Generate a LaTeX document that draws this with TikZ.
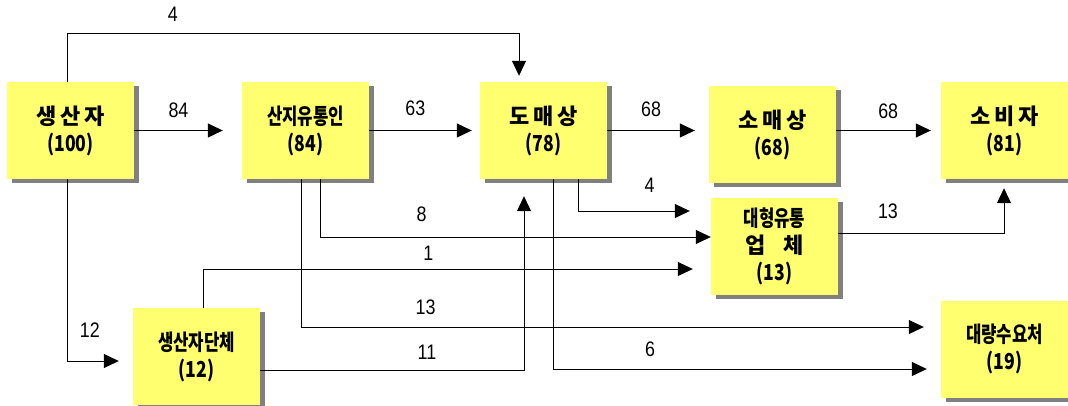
\documentclass[tikz,border=0pt]{standalone}
\usepackage{fontspec}
\usepackage{graphicx}
\usepackage{tikz}
\usetikzlibrary{arrows.meta,shadows}
\newfontfamily\krfont{Noto Sans CJK KR}
\newfontfamily\krnum[FakeStretch=0.8]{Noto Sans CJK KR}
\newfontfamily\numfont[FakeStretch=0.85]{Liberation Sans}
\newcommand\narrowtxt[1]{\scalebox{0.76}[1]{\krfont #1}}
\definecolor{boxyellow}{HTML}{FFFF70}
\definecolor{shadowgray}{HTML}{808080}
\tikzset{box/.style={fill=boxyellow,minimum width=127pt,minimum height=97pt,inner sep=0pt,align=center,font=\krnum\bfseries\fontsize{22}{27}\selectfont,general shadow={fill=shadowgray,shadow xshift=5pt,shadow yshift=-4pt}}}
\tikzset{lbl/.style={font=\numfont\fontsize{21}{25}\selectfont,inner sep=0pt}}
\tikzset{flow/.style={draw,line width=1pt,->}}

\begin{document}
\begin{tikzpicture}[>={Triangle[length=15pt,width=14pt]},x=1pt,y=-1pt]
    \useasboundingbox (0,0) rectangle (1068,405);

    \node[box] (prod)at (70.5,130.5) {{\krfont 생\,산\,자}\\(100)};
    \node[box] (local)at (305.5,130.5) {\narrowtxt{산지유통인}\\(84)};
    \node[box] (whole)at (543.5,130.5) {{\krfont 도\,매\,상}\\(78)};
    \node[box] (retail)at (772.5,134.5) {{\krfont 소\,매\,상}\\(68)};
    \node[box] (cons)at (1004.5,130.5) {{\krfont 소\,비\,자}\\(81)};
    \node[box] (mart)at (774.5,246) {\narrowtxt{대형유통}\\{\krfont 업\hspace{18pt}체}\\(13)};
    \node[box] (bulk)at (1004.5,349) {\narrowtxt{대량수요처}\\(19)};
    \node[box] (group)at (196.5,356.5) {\narrowtxt{생산자단체}\\(12)};

    \draw [flow] (prod.east) -- node[lbl,above=12.5pt]{84} ([xshift=-19pt]local.west);
    \draw [flow] (local.east) -- node[lbl,pos=0.45,above=14.5pt]{63} ([xshift=-8pt]whole.west);
    \draw [flow] (whole.east) -- node[lbl,above=13.5pt]{68} ([xshift=-14pt]retail.west |- whole.east);
    \draw [flow] (retail.east |- cons.west) -- node[lbl,pos=0.55,above=11.5pt]{68} ([xshift=-10pt]cons.west);
    \draw [flow] ([xshift=-3.5pt]prod.north) -- ++(0,-48) -| node[lbl,pos=0.117,above=11.5pt]{4} ([xshift=-24.5pt,yshift=6pt]whole.north);
    \draw [flow] ([xshift=-3.5pt]prod.south) |- node[lbl,pos=0.72,above=23.5pt]{12} ([xshift=-14pt,yshift=-4.5pt]group.west);
    \draw [flow] ([xshift=14.5pt]local.south) |- node[lbl,pos=0.63,above=14.5pt]{8} ([yshift=9pt]mart.west);
    \draw [flow] ([xshift=-4.5pt]local.south) |- node[lbl,pos=0.6,above=11.5pt]{13} ([xshift=-17pt,yshift=22pt]bulk.west);
    \draw [flow] ([xshift=6.5pt]group.north) |- node[lbl,pos=0.73,above=8.5pt]{1} ([xshift=-18pt,yshift=-23pt]mart.west);
    \draw [flow] ([yshift=-13.5pt]group.east) -| node[lbl,pos=0.316,above=10.5pt]{11} ([xshift=-19.5pt,yshift=-17pt]whole.south);
    \draw [flow] ([xshift=9.5pt]whole.south) |- node[lbl,pos=0.63,above=11.5pt]{6} ([xshift=-14pt,yshift=-20pt]bulk.west);
    \draw [flow] ([xshift=34.5pt]whole.south) |- node[lbl,pos=0.82,above=18.5pt]{4} ([xshift=-21pt,yshift=35pt]mart.west);
    \draw [flow] ([yshift=13pt]mart.east) -| node[lbl,pos=0.15,above=13.5pt]{13} ([xshift=-0.5pt,yshift=-9pt]cons.south);
\end{tikzpicture}
\end{document}
